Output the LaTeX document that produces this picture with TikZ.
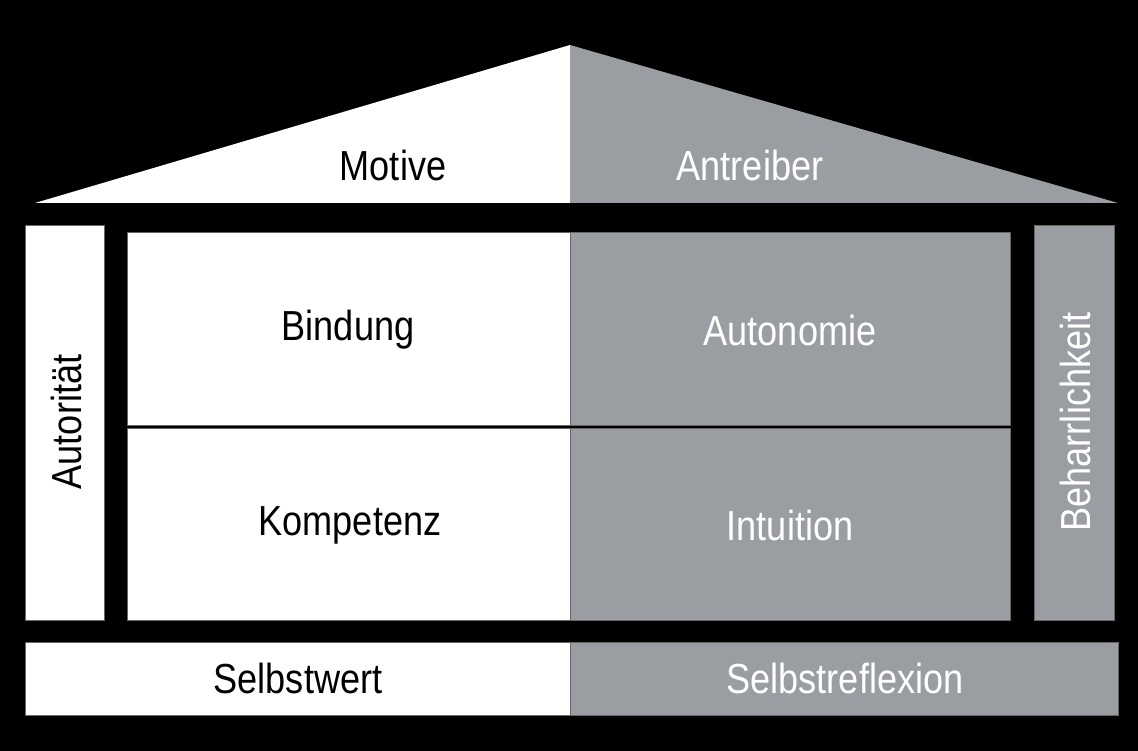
\documentclass[tikz,border=0pt]{standalone}
\usepackage{fontspec}
\setmainfont{Liberation Sans}[FakeStretch=0.86]
\definecolor{hgray}{HTML}{9A9EA3}
\begin{document}
\begin{tikzpicture}[x=1pt,y=-1pt,
  lbl/.style={font=\fontsize{42}{48}\selectfont},
  wbox/.style={fill=white,draw=black!60,line width=0.8pt},
  gbox/.style={fill=hgray,draw=black!60,line width=0.8pt}]
\fill[black] (0,0) rectangle (1138,751);
\useasboundingbox (0,0) rectangle (1138,751);
% roof
\fill[white] (35,203) -- (570,45) -- (570,203) -- cycle;
\fill[hgray] (570,45) -- (1118,203) -- (570,203) -- cycle;
% pillars
\draw[wbox] (25,225) rectangle (104,620);
\draw[gbox] (1034,225) rectangle (1114,620);
% center
\draw[wbox] (127,232) rectangle (570,425);
\draw[wbox] (127,428) rectangle (570,620);
\draw[gbox] (570,232) rectangle (1010,425);
\draw[gbox] (570,428) rectangle (1010,620);
% base
\draw[wbox] (25,642) rectangle (570,715);
\draw[gbox] (570,642) rectangle (1118,715);
% labels
\node[lbl,text=black] (motive) at (393,165) {Motive};
\node[lbl,text=white] (antreiber) at (750,165) {Antreiber};
\node[lbl,text=black] (bindung) at (348,330) {Bindung};
\node[lbl,text=white] (autonomie) at (790,330) {Autonomie};
\node[lbl,text=black] (kompetenz) at (350,525) {Kompetenz};
\node[lbl,text=white] (intuition) at (790,525) {Intuition};
\node[lbl,text=black] (selbstwert) at (298,678) {Selbstwert};
\node[lbl,text=white] (selbstreflexion) at (845,678) {Selbstreflexion};
\node[lbl,text=black,rotate=90] (autoritaet) at (66,422) {Autorität};
\node[lbl,text=white,rotate=90] (beharr) at (1075,422) {Beharrlichkeit};
\end{tikzpicture}
\end{document}
